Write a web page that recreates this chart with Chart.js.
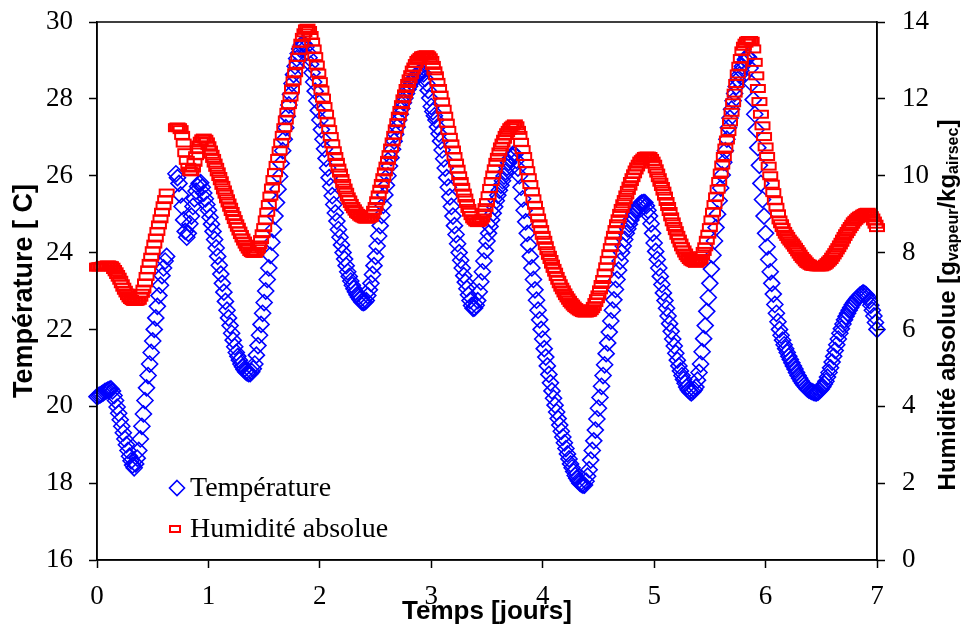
<!DOCTYPE html>
<html lang="fr">
<head>
<meta charset="utf-8">
<title>Température et humidité absolue</title>
<script src="https://cdn.jsdelivr.net/npm/chart.js@4.4.1/dist/chart.umd.min.js"></script>
<style>
  html, body { margin: 0; padding: 0; background: #fff; }
  #wrap { width: 966px; height: 628px; position: relative; }
</style>
</head>
<body>
<div id="wrap"><canvas id="chart"></canvas></div>
<script>
// Indoor climate over one week - temperature (left axis) and absolute humidity (right axis)

const STEP_DAYS = 1 / 72;

// Température [°C]
const temperature = [
  // jour 0
  20.25,20.28,20.30, 20.32,20.35,20.38, 20.40,20.42,20.44, 20.45,20.40,20.28, 20.15,19.98,19.82, 19.65,19.48,19.31, 19.15,19.00,18.85, 18.70,18.58,18.47,
  18.40,18.50,18.65, 18.85,19.15,19.48, 19.80,20.15,20.48, 20.80,21.10,21.40, 21.70,22.00,22.30, 22.60,22.88,23.15, 23.40,23.60,23.78, 23.90,null,null,
  null,null,null, 26.05,25.95,25.80, 25.50,25.20,24.85, 24.55,24.40,24.50, 24.75,24.95,25.20, 25.40,25.60,25.72, 25.80,25.82,25.70, 25.55,25.40,25.25,
  // jour 1
  25.10,24.92,24.74, 24.55,24.34,24.12, 23.90,23.67,23.44, 23.20,22.97,22.73, 22.50,22.30,22.10, 21.90,21.72,21.55, 21.40,21.30,21.20, 21.10,21.03,20.96,
  20.90,20.87,20.85, 20.85,20.90,20.98, 21.10,21.33,21.58, 21.85,22.13,22.42, 22.70,23.00,23.30, 23.60,23.93,24.27, 24.60,24.95,25.30, 25.65,25.98,26.32,
  26.65,26.95,27.25, 27.55,27.84,28.12, 28.40,28.63,28.85, 29.05,29.18,29.30, 29.40,29.45,29.42, 29.35,29.22,29.07, 28.90,28.68,28.44, 28.20,27.95,27.70,
  // jour 2
  27.45,27.20,26.95, 26.70,26.45,26.20, 25.95,25.72,25.48, 25.25,25.03,24.82, 24.60,24.40,24.20, 24.00,23.83,23.66, 23.50,23.38,23.26, 23.15,23.06,22.98,
  22.90,22.84,22.78, 22.72,22.70,22.71, 22.75,22.88,23.03, 23.20,23.43,23.66, 23.90,24.17,24.43, 24.70,24.97,25.23, 25.50,25.75,26.00, 26.25,26.47,26.69,
  26.90,27.08,27.27, 27.45,27.60,27.75, 27.90,28.02,28.14, 28.25,28.33,28.42, 28.50,28.55,28.60, 28.65,28.67,28.69, 28.70,28.65,28.53, 28.40,28.22,28.02,
  // jour 3
  27.80,27.67,27.56, 27.45,27.27,27.09, 26.90,26.67,26.44, 26.20,25.95,25.70, 25.45,25.20,24.95, 24.70,24.47,24.23, 24.00,23.80,23.60, 23.40,23.23,23.06,
  22.90,22.75,22.62, 22.55,22.56,22.63, 22.75,22.98,23.24, 23.50,23.78,24.05, 24.30,24.50,24.68, 24.85,25.02,25.19, 25.35,25.49,25.62, 25.75,25.87,25.99,
  26.10,26.22,26.34, 26.45,26.52,26.57, 26.55,26.40,26.20, 26.00,25.70,25.40, 25.10,24.80,24.50, 24.20,23.90,23.60, 23.30,23.03,22.76, 22.50,22.25,22.00,
  // jour 4
  21.75,21.50,21.28, 21.05,20.83,20.61, 20.40,20.21,20.03, 19.85,19.68,19.51, 19.35,19.20,19.05, 18.90,18.76,18.63, 18.50,18.40,18.30, 18.20,18.13,18.06,
  18.00,17.97,17.95, 17.95,18.05,18.18, 18.35,18.60,18.85, 19.10,19.38,19.67, 19.95,20.23,20.52, 20.80,21.08,21.37, 21.65,21.93,22.22, 22.50,22.77,23.04,
  23.30,23.54,23.78, 24.00,24.17,24.34, 24.50,24.62,24.74, 24.85,24.94,25.02, 25.10,25.16,25.22, 25.27,25.29,25.30, 25.30,25.22,25.10, 24.95,24.75,24.50,
  // jour 5
  24.25,24.03,23.82, 23.60,23.38,23.17, 22.95,22.75,22.55, 22.35,22.15,21.95, 21.75,21.57,21.38, 21.20,21.05,20.92, 20.80,20.70,20.60, 20.50,20.43,20.38,
  20.35,20.38,20.43, 20.50,20.68,20.88, 21.10,21.42,21.76, 22.10,22.47,22.83, 23.20,23.57,23.93, 24.30,24.65,25.00, 25.35,25.68,26.02, 26.35,26.65,26.95,
  27.25,27.50,27.73, 27.95,28.14,28.32, 28.50,28.62,28.74, 28.85,28.94,29.03, 29.10,29.08,28.80, 28.40,27.98,27.60, 27.20,26.73,26.27, 25.80,25.38,24.95,
  // jour 6
  24.50,24.15,23.82, 23.50,23.20,22.92, 22.65,22.42,22.20, 22.00,21.85,21.72, 21.60,21.50,21.40, 21.30,21.22,21.13, 21.05,20.97,20.88, 20.80,20.73,20.66,
  20.60,20.55,20.50, 20.45,20.42,20.40, 20.38,20.36,20.35, 20.35,20.37,20.41, 20.45,20.51,20.58, 20.65,20.76,20.88, 21.00,21.15,21.30, 21.45,21.60,21.75,
  21.90,22.02,22.14, 22.25,22.34,22.42, 22.50,22.57,22.64, 22.70,22.75,22.80, 22.85,22.89,22.92, 22.95,22.93,22.90, 22.85,22.75,22.63, 22.50,22.35,22.18,
  22.00
];

// Humidité absolue [g vapeur / kg air sec]
const humidity = [
  // jour 0
  7.62,7.63,7.63, 7.64,7.65,7.66, 7.67,7.68,7.67, 7.66,7.62,7.56, 7.50,7.43,7.36, 7.28,7.19,7.10, 7.02,6.95,6.88, 6.82,6.78,6.75,
  6.73,6.73,6.74, 6.76,6.84,6.94, 7.05,7.21,7.38, 7.55,7.72,7.88, 8.05,8.22,8.38, 8.55,8.72,8.88, 9.05,9.22,9.38, 9.55,null,null,
  null,null,null, 11.25,11.27,11.25, 11.20,11.05,10.85, 10.60,10.40,10.22, 10.12,10.10,10.20, 10.35,10.52,10.68, 10.80,10.90,10.96, 10.98,10.95,10.88,
  // jour 1
  10.78,10.67,10.56, 10.45,10.33,10.22, 10.10,9.98,9.87, 9.75,9.63,9.52, 9.40,9.29,9.18, 9.07,8.96,8.86, 8.75,8.66,8.56, 8.47,8.38,8.30,
  8.22,8.15,8.09, 8.03,8.00,7.98, 7.98,8.03,8.10, 8.20,8.34,8.49, 8.65,8.85,9.05, 9.25,9.47,9.68, 9.90,10.08,10.27, 10.45,10.65,10.85,
  11.05,11.25,11.45, 11.65,11.85,12.05, 12.25,12.47,12.68, 12.90,13.08,13.27, 13.45,13.60,13.72, 13.82,13.84,13.78, 13.65,13.48,13.30, 13.10,12.88,12.67,
  // jour 2
  12.45,12.23,12.02, 11.80,11.60,11.40, 11.20,11.02,10.83, 10.65,10.50,10.35, 10.20,10.07,9.93, 9.80,9.68,9.57, 9.45,9.37,9.28, 9.20,9.14,9.08,
  9.02,8.99,8.95, 8.92,8.90,8.88, 8.87,8.88,8.90, 8.92,9.00,9.10, 9.20,9.35,9.50, 9.65,9.80,9.95, 10.10,10.25,10.40, 10.55,10.72,10.88,
  11.05,11.22,11.38, 11.55,11.70,11.85, 12.00,12.13,12.27, 12.40,12.52,12.63, 12.75,12.83,12.92, 13.00,13.04,13.08, 13.12,13.13,13.14, 13.15,13.12,13.07,
  // jour 3
  13.00,12.87,12.73, 12.60,12.43,12.27, 12.10,11.92,11.73, 11.55,11.37,11.18, 11.00,10.83,10.67, 10.50,10.33,10.17, 10.00,9.85,9.70, 9.55,9.42,9.28,
  9.15,9.05,8.96, 8.88,8.84,8.80, 8.78,8.81,8.85, 8.90,9.03,9.17, 9.30,9.48,9.67, 9.85,10.02,10.18, 10.35,10.48,10.62, 10.75,10.85,10.95,
  11.05,11.12,11.18, 11.25,11.29,11.32, 11.35,11.30,11.18, 11.05,10.87,10.68, 10.50,10.32,10.13, 9.95,9.77,9.58, 9.40,9.23,9.07, 8.90,8.75,8.60,
  // jour 4
  8.45,8.32,8.18, 8.05,7.93,7.82, 7.70,7.59,7.49, 7.38,7.28,7.19, 7.10,7.03,6.95, 6.88,6.82,6.76, 6.70,6.66,6.61, 6.57,6.54,6.51,
  6.48,6.46,6.44, 6.43,6.43,6.44, 6.45,6.49,6.54, 6.60,6.70,6.80, 6.90,7.03,7.17, 7.30,7.47,7.63, 7.80,7.97,8.13, 8.30,8.45,8.60,
  8.75,8.88,9.02, 9.15,9.27,9.38, 9.50,9.62,9.73, 9.85,9.95,10.05, 10.15,10.23,10.30, 10.38,10.42,10.46, 10.50,10.51,10.51, 10.50,10.45,10.38,
  // jour 5
  10.30,10.18,10.07, 9.95,9.83,9.72, 9.60,9.47,9.33, 9.20,9.07,8.93, 8.80,8.68,8.57, 8.45,8.35,8.25, 8.15,8.07,7.99, 7.92,7.87,7.82,
  7.78,7.76,7.74, 7.72,7.75,7.78, 7.82,7.92,8.03, 8.15,8.32,8.48, 8.65,8.85,9.05, 9.25,9.45,9.65, 9.85,10.07,10.28, 10.50,10.72,10.93,
  11.15,11.40,11.65, 11.90,12.15,12.40, 12.65,12.85,13.05, 13.25,13.37,13.45, 13.50,13.52,13.52, 13.50,13.30,12.95, 12.60,12.27,11.93, 11.60,11.30,11.02,
  // jour 6
  10.75,10.50,10.25, 10.00,9.78,9.56, 9.35,9.18,9.01, 8.85,8.75,8.65, 8.55,8.48,8.42, 8.35,8.30,8.25, 8.20,8.14,8.08, 8.02,7.96,7.90,
  7.85,7.81,7.76, 7.72,7.70,7.67, 7.65,7.64,7.64, 7.63,7.63,7.63, 7.63,7.65,7.67, 7.70,7.74,7.78, 7.82,7.88,7.94, 8.00,8.07,8.13,
  8.20,8.27,8.35, 8.42,8.49,8.55, 8.62,8.68,8.74, 8.80,8.84,8.88, 8.92,8.95,8.97, 9.00,9.02,9.04, 9.05,9.02,8.96, 8.90,8.82,8.74,
  8.65
];

const seriesLabels = ['Température', 'Humidité absolue'];

const BLUE = '#0000ff';
const RED = '#ff0000';
const TICK_FONT = { family: "'Liberation Serif', 'Times New Roman', serif", size: 27 };
const TITLE_FONT = { family: "'Liberation Sans', Arial, sans-serif", size: 26, weight: 'bold', lineHeight: 1 };

/**
 * Hollow wide rectangle used as the humidity marker
 */
function makeRectMarker(w, h, color, lw) {
  const c = document.createElement('canvas');
  c.width = w + 2;
  c.height = h + 2;
  const g = c.getContext('2d');
  g.strokeStyle = color;
  g.lineWidth = lw;
  g.strokeRect(1 + lw / 2, 1 + lw / 2, w - lw, h - lw);
  return c;
}
const rectMarker = makeRectMarker(16, 9, RED, 2);

const toPoints = (values) => values.map((v, i) => ({ x: i * STEP_DAYS, y: v }));

/**
 * Fix the size of an axis box so the plot area lands where the original one is
 */
function fixVertical(width) {
  return (scale) => {
    scale.width = width;
    scale.paddingTop = 0;
    scale.paddingBottom = 0;
  };
}

// Box around the plot area (top and right edges)
const framePlugin = {
  id: 'frame',
  afterDraw(chart) {
    const { ctx, chartArea: a } = chart;
    ctx.save();
    ctx.strokeStyle = '#000';
    ctx.lineWidth = 1.5;
    ctx.strokeRect(a.left, a.top, a.right - a.left, a.bottom - a.top);
    ctx.restore();
  }
};

// Legend drawn inside the plot, bottom left
const insideLegendPlugin = {
  id: 'insideLegend',
  afterDraw(chart) {
    const { ctx, chartArea: a } = chart;
    const mx = a.left + 80;
    const tx = a.left + 93;
    const rows = [a.bottom - 72, a.bottom - 31];
    ctx.save();
    ctx.font = `28px ${TICK_FONT.family}`;
    ctx.fillStyle = '#000';
    ctx.textBaseline = 'middle';
    ctx.textAlign = 'left';

    // diamond
    const r = 7.5;
    ctx.strokeStyle = BLUE;
    ctx.lineWidth = 1.6;
    ctx.beginPath();
    ctx.moveTo(mx, rows[0] - r);
    ctx.lineTo(mx + r, rows[0]);
    ctx.lineTo(mx, rows[0] + r);
    ctx.lineTo(mx - r, rows[0]);
    ctx.closePath();
    ctx.stroke();
    ctx.fillText(seriesLabels[0], tx, rows[0] + 1);

    // small rectangle
    ctx.strokeStyle = RED;
    ctx.lineWidth = 2;
    ctx.strokeRect(mx - 7, rows[1] - 3, 10, 6);
    ctx.fillText(seriesLabels[1], tx, rows[1] + 1);
    ctx.restore();
  }
};

// Right axis title with subscripts
const rightTitlePlugin = {
  id: 'rightTitle',
  afterDraw(chart) {
    const { ctx, chartArea: a } = chart;
    const big = `bold 24px ${TITLE_FONT.family}`;
    const small = `bold 16px ${TITLE_FONT.family}`;
    const parts = [
      { t: 'Humidité absolue [g', f: big, dy: 0 },
      { t: 'vapeur', f: small, dy: 6 },
      { t: '/kg', f: big, dy: 0 },
      { t: 'airsec', f: small, dy: 6 },
      { t: ']', f: big, dy: 0 }
    ];
    ctx.save();
    let total = 0;
    parts.forEach(p => { ctx.font = p.f; p.w = ctx.measureText(p.t).width; total += p.w; });
    ctx.translate(948, (a.top + a.bottom) / 2 + 14);
    ctx.rotate(-Math.PI / 2);
    ctx.fillStyle = '#000';
    ctx.textBaseline = 'middle';
    ctx.textAlign = 'left';
    let x = -total / 2;
    parts.forEach(p => {
      ctx.font = p.f;
      ctx.fillText(p.t, x, p.dy);
      x += p.w;
    });
    ctx.restore();
  }
};

const axisGrid = {
  drawOnChartArea: false,
  drawTicks: true,
  tickLength: 8,
  tickWidth: 1.5,
  tickColor: '#000'
};
const axisBorder = { display: true, color: '#000', width: 1.5 };

new Chart(document.getElementById('chart'), {
  type: 'scatter',
  data: {
    datasets: [
      {
        label: seriesLabels[0],
        data: toPoints(temperature),
        yAxisID: 'y',
        pointStyle: 'rectRot',
        pointRadius: 8,
        borderColor: BLUE,
        backgroundColor: 'rgba(0,0,0,0)',
        pointBorderWidth: 1.6,
        showLine: false,
        clip: false,
        order: 1
      },
      {
        label: seriesLabels[1],
        data: toPoints(humidity),
        yAxisID: 'y2',
        pointStyle: rectMarker,
        pointRadius: 8,
        borderColor: RED,
        backgroundColor: 'rgba(0,0,0,0)',
        showLine: false,
        clip: false,
        order: 0
      }
    ]
  },
  options: {
    responsive: true,
    maintainAspectRatio: false,
    animation: false,
    events: [],
    layout: { padding: { top: 22, left: 0, right: 0, bottom: 0 } },
    plugins: {
      legend: { display: false },
      tooltip: { enabled: false }
    },
    scales: {
      x: {
        type: 'linear',
        min: 0,
        max: 7,
        ticks: { stepSize: 1, font: TICK_FONT, color: '#000', padding: 13, maxRotation: 0 },
        grid: axisGrid,
        border: axisBorder,
        title: { display: true, text: 'Temps [jours]', font: TITLE_FONT, color: '#000', padding: { top: 0, bottom: 3 } },
        afterFit: (scale) => { scale.height = 68; }
      },
      y: {
        position: 'left',
        min: 16,
        max: 30,
        ticks: { stepSize: 2, font: TICK_FONT, color: '#000', padding: 16 },
        grid: axisGrid,
        border: axisBorder,
        title: { display: true, text: 'Température [ C]', font: { ...TITLE_FONT, size: 27 }, color: '#000', padding: { top: 11, bottom: 0 } },
        afterFit: fixVertical(97)
      },
      y2: {
        position: 'right',
        min: 0,
        max: 14,
        ticks: { stepSize: 2, font: TICK_FONT, color: '#000', padding: 17 },
        grid: axisGrid,
        border: axisBorder,
        afterFit: fixVertical(89)
      }
    }
  },
  plugins: [framePlugin, insideLegendPlugin, rightTitlePlugin]
});
</script>
</body>
</html>
